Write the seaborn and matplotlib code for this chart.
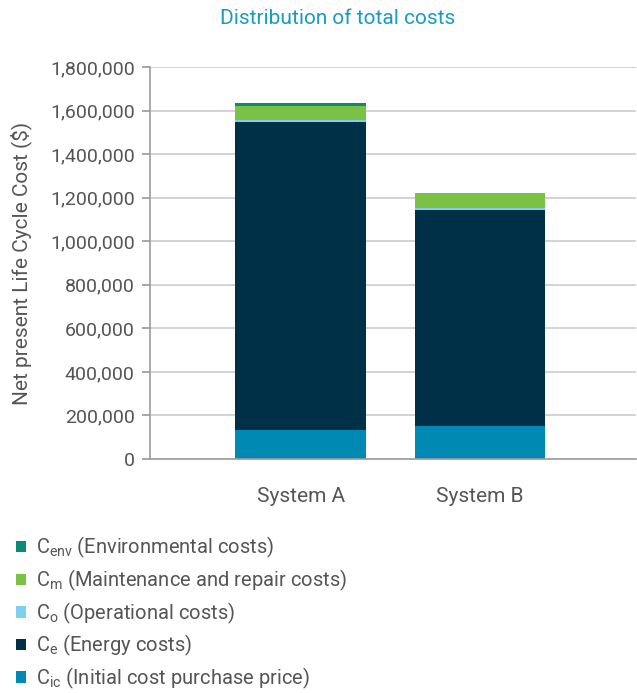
import numpy as np
import pandas as pd
import seaborn as sns
import matplotlib.pyplot as plt
from matplotlib.patches import Patch
from matplotlib.ticker import FuncFormatter

systems = ['System A', 'System B']
c_ic = [133000, 152000]
c_e = [1415000, 992000]
c_o = [9000, 9000]
c_m = [64000, 69000]
c_env = [14000, 1000]

components = ['C_ic', 'C_e', 'C_o', 'C_m', 'C_env']
labels = {
    'C_env': r'C$_{\mathregular{env}}$ (Environmental costs)',
    'C_m': r'C$_{\mathregular{m}}$ (Maintenance and repair costs)',
    'C_o': r'C$_{\mathregular{o}}$ (Operational costs)',
    'C_e': r'C$_{\mathregular{e}}$ (Energy costs)',
    'C_ic': r'C$_{\mathregular{ic}}$ (Initial cost purchase price)',
}
colors = {
    'C_env': '#0b8a78',
    'C_m': '#7bc144',
    'C_o': '#7fd0ee',
    'C_e': '#003047',
    'C_ic': '#0089b3',
}

df = pd.DataFrame({'system': systems, 'C_ic': c_ic, 'C_e': c_e, 'C_o': c_o,
                   'C_m': c_m, 'C_env': c_env})
cum = df[components].cumsum(axis=1)
cum['system'] = df['system']

sns.set_theme(style='white')
plt.rcParams['font.family'] = ['Roboto', 'DejaVu Sans']
plt.rcParams['mathtext.fontset'] = 'custom'
plt.rcParams['mathtext.rm'] = 'Roboto'
text_col = '#555555'

fig = plt.figure(figsize=(6.37, 6.93), dpi=100)
ax = fig.add_axes([150 / 637, 1 - 459 / 693, 486 / 637, 392 / 693])

# draw cumulative layers, tallest first so the lower ones sit in front
for comp in components[::-1]:
    sns.barplot(data=cum, x='system', y=comp, color=colors[comp], width=0.73,
                saturation=1, linewidth=0, ax=ax)

ax.set_xlim(-0.84, 1.87)
ax.set_ylim(0, 1800000)
ax.set_yticks(np.arange(0, 1800001, 200000))
ax.yaxis.set_major_formatter(FuncFormatter(lambda v, p: f'{int(v):,}'))
ax.yaxis.grid(True, color='#cccccc', linewidth=1.2)
ax.set_axisbelow(True)
for s in ['top', 'right']:
    ax.spines[s].set_visible(False)
ax.spines['left'].set_color('#9a9ca0')
ax.spines['bottom'].set_color('#9a9ca0')
ax.spines['left'].set_linewidth(1.2)
ax.spines['bottom'].set_linewidth(1.2)
ax.tick_params(axis='y', left=True, length=6, color='#9a9ca0', labelsize=14,
               labelcolor=text_col, pad=5)
ax.tick_params(axis='x', bottom=False, labelsize=15, labelcolor=text_col, pad=14)
ax.set_xlabel('')
ax.set_ylabel('Net present Life Cycle Cost ($)', fontsize=15, color=text_col, labelpad=13)

fig.text(338 / 637, 1 - 18 / 693, 'Distribution of total costs', ha='center',
         va='center', fontsize=15, color='#1a9bc0')

handles = [Patch(facecolor=colors[c], edgecolor='none') for c in components[::-1]]
fig.legend(handles, [labels[c] for c in components[::-1]], loc='upper left',
           bbox_to_anchor=(0.0, 1 - 519 / 693), frameon=False, fontsize=14.5,
           handlelength=0.5, handleheight=0.5, handletextpad=0.5,
           labelspacing=0.36, labelcolor=text_col, borderaxespad=0.4)

fig.savefig('out.png', dpi=100)
